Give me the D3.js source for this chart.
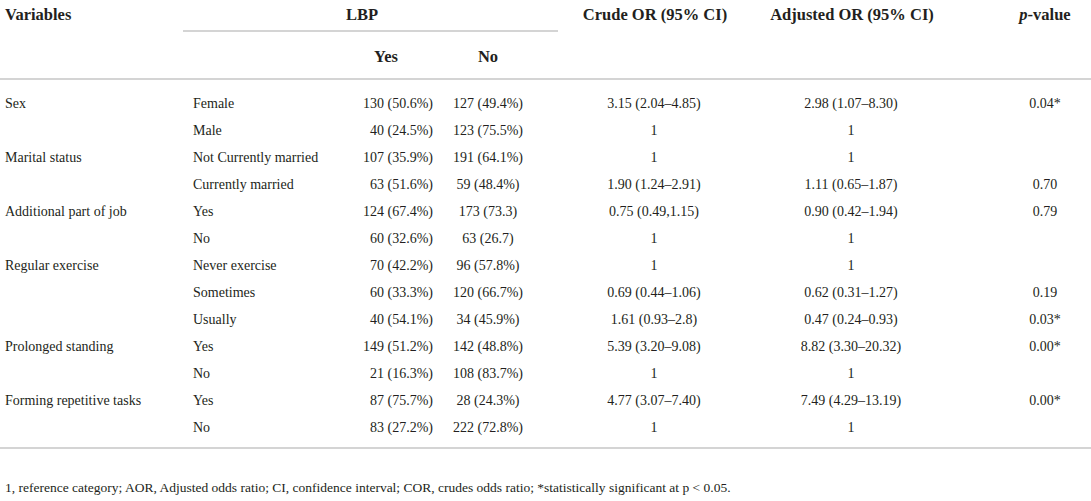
<!DOCTYPE html>
<html>
<head>
<meta charset="utf-8">
<script src="https://cdn.jsdelivr.net/npm/d3@7/dist/d3.min.js"></script>
<style>
  body { margin: 0; background: #fff; }
  svg text { font-family: "Liberation Serif", "DejaVu Serif", serif; fill: #231f20; }
</style>
</head>
<body>
<div id="chart"></div>
<script>
const variables = ["Sex", "", "Marital status", "", "Additional part of job", "", "Regular exercise", "", "",
    "Prolonged standing", "", "Forming repetitive tasks", ""];
const levels = ["Female", "Male", "Not Currently married", "Currently married", "Yes", "No", "Never exercise",
    "Sometimes", "Usually", "Yes", "No", "Yes", "No"];
const lbpYes = ["130 (50.6%)", "40 (24.5%)", "107 (35.9%)", "63 (51.6%)", "124 (67.4%)", "60 (32.6%)", "70 (42.2%)",
    "60 (33.3%)", "40 (54.1%)", "149 (51.2%)", "21 (16.3%)", "87 (75.7%)", "83 (27.2%)"];
const lbpNo = ["127 (49.4%)", "123 (75.5%)", "191 (64.1%)", "59 (48.4%)", "173 (73.3)", "63 (26.7)", "96 (57.8%)",
    "120 (66.7%)", "34 (45.9%)", "142 (48.8%)", "108 (83.7%)", "28 (24.3%)", "222 (72.8%)"];
const crudeOR = ["3.15 (2.04\u20134.85)", "1", "1", "1.90 (1.24\u20132.91)", "0.75 (0.49,1.15)", "1", "1",
    "0.69 (0.44\u20131.06)", "1.61 (0.93\u20132.8)", "5.39 (3.20\u20139.08)", "1", "4.77 (3.07\u20137.40)", "1"];
const adjustedOR = ["2.98 (1.07\u20138.30)", "1", "1", "1.11 (0.65\u20131.87)", "0.90 (0.42\u20131.94)", "1", "1",
    "0.62 (0.31\u20131.27)", "0.47 (0.24\u20130.93)", "8.82 (3.30\u201320.32)", "1", "7.49 (4.29\u201313.19)", "1"];
const pValues = ["0.04*", "", "", "0.70", "0.79", "", "", "0.19", "0.03*", "0.00*", "", "0.00*", ""];
const footnote = "1, reference category; AOR, Adjusted odds ratio; CI, confidence interval; COR, crudes odds ratio; *statistically significant at p < 0.05.";

const width = 1091, height = 501;
const svg = d3.select("#chart").append("svg")
    .attr("width", width)
    .attr("height", height);

const rows = d3.range(levels.length);
const y = d3.scalePoint().domain(rows).range([103, 427]);

// column layout
const columns = [
    {values: variables, x: 5, anchor: "start"},
    {values: levels, x: 193, anchor: "start"},
    {values: lbpYes, x: 433, anchor: "end"},
    {values: lbpNo, x: 488, anchor: "middle"},
    {values: crudeOR, x: 654, anchor: "middle"},
    {values: adjustedOR, x: 851, anchor: "middle"},
    {values: pValues, x: 1045, anchor: "middle"}
];

// rules
const rule = function (x1, x2, yy) {
    svg.append("line")
        .attr("x1", x1).attr("x2", x2)
        .attr("y1", yy).attr("y2", yy)
        .attr("stroke", "#d4d4d4")
        .attr("stroke-width", 2);
};
rule(183, 558, 31);
rule(0, width, 79);
rule(0, width, 448);

// header
const header = svg.append("g").style("font-weight", "bold").style("font-size", "16.5px");
header.append("text").attr("x", 5).attr("y", 20).text("Variables");
header.append("text").attr("x", 362).attr("y", 20).attr("text-anchor", "middle").text("LBP");
header.append("text").attr("x", 386).attr("y", 62).attr("text-anchor", "middle").text("Yes");
header.append("text").attr("x", 488).attr("y", 62).attr("text-anchor", "middle").text("No");
header.append("text").attr("x", 655).attr("y", 20).attr("text-anchor", "middle").text("Crude OR (95% CI)");
header.append("text").attr("x", 852).attr("y", 20).attr("text-anchor", "middle").text("Adjusted OR (95% CI)");
const pv = header.append("text").attr("x", 1045).attr("y", 20).attr("text-anchor", "middle");
pv.append("tspan").style("font-style", "italic").text("p");
pv.append("tspan").text("-value");

// body cells
const body = svg.append("g").style("font-size", "14px");
columns.forEach(function (col) {
    body.append("g")
        .selectAll("text")
        .data(rows.filter(function (i) { return col.values[i] !== ""; }))
        .enter()
        .append("text")
        .attr("x", col.x)
        .attr("y", function (i) { return y(i); })
        .attr("dy", "0.35em")
        .attr("text-anchor", col.anchor)
        .text(function (i) { return col.values[i]; });
});

svg.append("text")
    .attr("x", 5)
    .attr("y", 492)
    .style("font-size", "13.5px")
    .text(footnote);
</script>
</body>
</html>
